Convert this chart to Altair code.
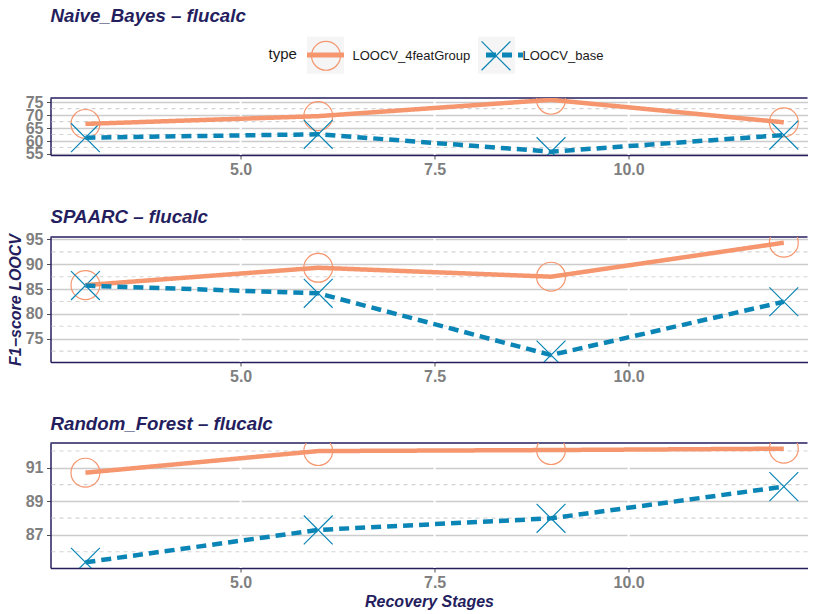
import altair as alt
import pandas as pd

# ---------------- data ----------------
stages = [3, 6, 9, 12]
types = ["LOOCV_4featGroup", "LOOCV_base"]
panel_titles = ["Naive_Bayes – flucalc", "SPAARC – flucalc", "Random_Forest – flucalc"]

nb_feat = [66.6, 69.6, 75.9, 67.2]
nb_base = [61.3, 62.6, 55.9, 62.3]
sp_feat = [85.8, 89.3, 87.5, 94.35]
sp_base = [85.7, 84.15, 71.7, 82.45]
rf_feat = [90.71, 92.0, 92.06, 92.14]
rf_base = [85.37, 87.3, 87.99, 89.88]

x_breaks = [5.0, 7.5, 10.0]
nb_major = [55, 60, 65, 70, 75]
nb_minor = [57.5, 62.5, 67.5, 72.5]
sp_major = [75, 80, 85, 90, 95]
sp_minor = [72.5, 77.5, 82.5, 87.5, 92.5]
rf_major = [87, 89, 91]
rf_minor = [86, 88, 90, 92]

x_domain = [2.55, 12.305]
nb_domain = [54.6, 76.6]
sp_domain = [70.3, 95.5]
rf_domain = [85.03, 92.48]

# ---------------- styling ----------------
PLOT_W = 757
ORANGE = "#F5966E"
BLUE = "#0A85B5"
NAVY = "#251E5E"
GRAY_LBL = "#7F7F7F"
KEY_BG = "#F2F2F2"
FONT = "Liberation Sans"
CIRCLE = ("M0.78,0C0.78,0.4308,0.4308,0.78,0,0.78C-0.4308,0.78,-0.78,0.4308,-0.78,0"
          "C-0.78,-0.4308,-0.4308,-0.78,0,-0.78C0.4308,-0.78,0.78,-0.4308,0.78,0Z")
XSHAPE = "M-0.78,-0.78L0.78,0.78M-0.78,0.78L0.78,-0.78"


def make_df(feat, base):
    rows = []
    for s, v in zip(stages, feat):
        rows.append({"stage": s, "value": v, "type": types[0]})
    for s, v in zip(stages, base):
        rows.append({"stage": s, "value": v, "type": types[1]})
    return pd.DataFrame(rows)


def legend_common(visible, **kw):
    return alt.Legend(
        orient="none", legendX=218, legendY=-62, direction="horizontal",
        title="type", titleOrient="left", titleAnchor="middle", titleBaseline="middle",
        titleFontSize=15, titleFont=FONT, titleFontWeight="normal",
        titleColor="#1A1A1A" if visible else "transparent",
        titlePadding=9,
        labelFontSize=13, labelFont=FONT,
        labelColor="#1A1A1A" if visible else "transparent",
        labelOffset=7, columnPadding=6, padding=0,
        **kw,
    )


def legend_bg():
    return legend_common(False, symbolType="square", symbolSize=1369, symbolStrokeWidth=1,
                         symbolStrokeColor="transparent")


def legend_pts():
    return legend_common(True, symbolSize=1369, symbolStrokeWidth=1.2,
                         symbolFillColor="transparent")


def legend_lines():
    return legend_common(False, symbolType="M-1.12,0L1.12,0", symbolSize=1089,
                         symbolStrokeWidth=5, symbolFillColor="transparent")


def panel(idx, feat, base, major, minor, domain, height, title_offset,
          with_legend=False, ytitle=None, xtitle=None):
    df = make_df(feat, base)
    xs = alt.Scale(domain=x_domain, nice=False, zero=False)
    ys = alt.Scale(domain=domain, nice=False, zero=False)

    xaxis = alt.Axis(
        values=x_breaks, format=".1f", grid=False,
        domain=True, domainColor=NAVY, domainWidth=1.5,
        tickSize=4, tickColor="#4D4D4D", tickWidth=1,
        labelFontSize=16, labelFontWeight="bold", labelColor=GRAY_LBL, labelFont=FONT,
        labelPadding=2.5, labelFlush=False,
        title=xtitle, titleFontSize=16, titleFontStyle="italic", titleFontWeight="bold",
        titleColor=NAVY, titleFont=FONT, titlePadding=3,
    )
    yaxis = alt.Axis(
        values=major, grid=True, gridColor="#CCCCCC", gridWidth=1.4,
        domain=True, domainColor=NAVY, domainWidth=1.5,
        tickSize=4, tickColor="#4D4D4D", tickWidth=1,
        labelFontSize=16, labelFontWeight="bold", labelColor=GRAY_LBL, labelFont=FONT,
        labelPadding=3.5, labelOverlap=False, labelFlush=False,
        title=ytitle, titleFontSize=16, titleFontStyle="italic", titleFontWeight="bold",
        titleColor=NAVY, titleFont=FONT, titlePadding=2,
    )

    def X(field):
        return alt.X(field, scale=xs, axis=xaxis)

    def Y(field):
        return alt.Y(field, scale=ys, axis=yaxis)

    minor_layer = alt.Chart(pd.DataFrame({"m": minor})).mark_rule(
        stroke="#D3D3D3", strokeWidth=1.1, strokeDash=[4, 4]
    ).encode(y=Y("m:Q"))

    vgrid = alt.Chart(pd.DataFrame({"b": x_breaks})).mark_rule(
        stroke="white", strokeWidth=2
    ).encode(x=X("b:Q"))

    # top edge of the panel border
    top_border = alt.Chart(pd.DataFrame({"b": [0]})).mark_rule(
        stroke=NAVY, strokeWidth=1.5
    ).encode(y=alt.value(0), x=alt.value(0), x2=alt.value(PLOT_W))

    # legend key background only (no marks drawn: data filtered out)
    keybg = alt.Chart(df).transform_filter("false").mark_point(
        filled=True, shape="square", size=1369
    ).encode(
        x=X("stage:Q"), y=Y("value:Q"),
        fill=alt.Fill("type:N",
                      scale=alt.Scale(domain=alt.DomainUnionWith(unionWith=types),
                                      range=[KEY_BG, KEY_BG]),
                      legend=legend_bg() if with_legend else None),
    )

    pts = alt.Chart(df).mark_point(filled=False, size=1369, strokeWidth=1.2, opacity=1,
                                   clip=True).encode(
        x=X("stage:Q"), y=Y("value:Q"),
        stroke=alt.Stroke("type:N", scale=alt.Scale(domain=types, range=[ORANGE, BLUE]),
                          legend=legend_pts() if with_legend else None),
        shape=alt.Shape("type:N", scale=alt.Scale(domain=types, range=[CIRCLE, XSHAPE]),
                        legend=legend_pts() if with_legend else None),
    )

    lns = alt.Chart(df).mark_line(strokeWidth=4.5, strokeCap="butt", clip=True).encode(
        x=X("stage:Q"), y=Y("value:Q"),
        color=alt.Color("type:N", scale=alt.Scale(range=[ORANGE, BLUE]),
                        legend=legend_lines() if with_legend else None),
        strokeDash=alt.StrokeDash("type:N", scale=alt.Scale(range=[[1, 0], [10, 6]]),
                                  legend=legend_lines() if with_legend else None),
    )

    return alt.layer(minor_layer, vgrid, top_border, keybg, pts, lns).properties(
        width=PLOT_W, height=height,
        title=alt.TitleParams(
            panel_titles[idx], anchor="start", frame="group", fontSize=18.7,
            fontWeight="bold", fontStyle="italic", color=NAVY, font=FONT,
            baseline="alphabetic", offset=title_offset,
        ),
    )


p1 = panel(0, nb_feat, nb_base, nb_major, nb_minor, nb_domain, 57, -5, with_legend=True)
p2 = panel(1, sp_feat, sp_base, sp_major, sp_minor, sp_domain, 125, -10.5,
           ytitle="F1−score LOOCV")
p3 = panel(2, rf_feat, rf_base, rf_major, rf_minor, rf_domain, 125, -6.7,
           xtitle="Recovery Stages")

chart = alt.vconcat(p1, p2, p3, spacing=30).resolve_scale(
    color="independent", shape="independent", strokeDash="independent",
    stroke="independent", fill="independent"
).resolve_legend(
    color="independent", shape="independent", strokeDash="independent",
    stroke="independent", fill="independent"
).configure_view(
    stroke="transparent", strokeWidth=0
).properties(
    padding={"left": -1.5, "top": -1, "right": 0, "bottom": 0}
)

chart.save("out.html", embed_options={"renderer": "svg", "actions": False})
